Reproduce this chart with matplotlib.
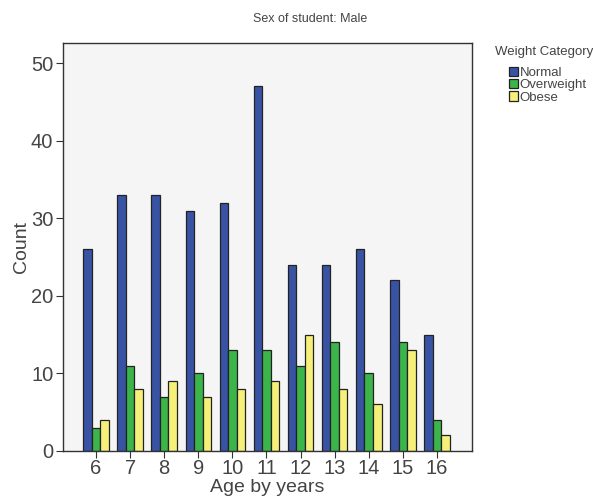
import matplotlib
matplotlib.use("Agg")
import matplotlib.pyplot as plt
import numpy as np
from matplotlib.patches import Patch

plt.rcParams["font.family"] = ["Liberation Sans", "DejaVu Sans"]

ages = [6, 7, 8, 9, 10, 11, 12, 13, 14, 15, 16]
normal = [26, 33, 33, 31, 32, 47, 24, 24, 26, 22, 15]
overweight = [3, 11, 7, 10, 13, 13, 11, 14, 10, 14, 4]
obese = [4, 8, 9, 7, 8, 9, 15, 8, 6, 13, 2]
categories = ["Normal", "Overweight", "Obese"]
colors = ["#3953a4", "#3bb54a", "#f6ef7a"]

fig = plt.figure(figsize=(5.93, 4.96), dpi=100)
ax = fig.add_axes([63/593, 45/496, (472-63)/593, (451-43)/496])
ax.set_facecolor("#f5f5f5")

x = np.array(ages, dtype=float)
w = 0.25
for i, (vals, c) in enumerate(zip([normal, overweight, obese], colors)):
    ax.bar(x + (i - 1) * w, vals, width=w, color=c, edgecolor="#222222", linewidth=0.9, zorder=2)

ax.set_xlim(5.03, 17.03)
ax.set_ylim(0, 52.6)
ax.set_xticks(ages)
ax.set_xticklabels([str(a) for a in ages], fontsize=14.5, color="#444444")
ax.set_yticks([0, 10, 20, 30, 40, 50])
ax.tick_params(axis="y", labelsize=14.5, labelcolor="#444444", length=5, direction="out", color="#333333", pad=2)
ax.tick_params(axis="x", length=5, direction="out", color="#333333", pad=1)
for s in ax.spines.values():
    s.set_color("#333333")
    s.set_linewidth(1.0)
ax.set_xlabel("Age by years", fontsize=14, color="#444444")
ax.xaxis.set_label_coords(0.5, -0.068)
ax.set_ylabel("Count", fontsize=14, color="#444444")
ax.yaxis.set_label_coords(-0.08, 0.5)

fig.text(310/593, 1 - 19/496, "Sex of student: Male", ha="center", va="center", fontsize=9, color="#444444")
fig.text(495/593, 1 - 52/496, "Weight Category", ha="left", va="center", fontsize=9.5, color="#444444")

handles = [Patch(facecolor=c, edgecolor="#222222", linewidth=0.9) for c in colors]
leg = fig.legend(handles, categories, loc="upper left", bbox_to_anchor=(509/593, 1 - 67/496),
                 frameon=False, fontsize=9.5, handlelength=0.7, handleheight=0.7,
                 handletextpad=0.1, labelspacing=0.0, borderpad=0, borderaxespad=0)
for t in leg.get_texts():
    t.set_color("#444444")

fig.savefig("out.png", dpi=100)
